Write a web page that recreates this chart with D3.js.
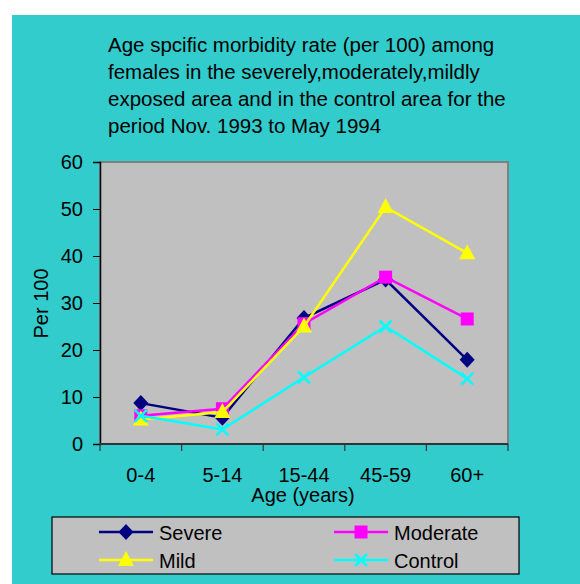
<!DOCTYPE html>
<html>
<head>
<meta charset="utf-8">
<script src="https://cdn.jsdelivr.net/npm/d3@7"></script>
<style>
  body { margin: 0; background: #fff; }
  svg text { font-family: "Liberation Sans", Arial, sans-serif; fill: #000; }
</style>
</head>
<body>
<div id="chart"></div>
<script>
// data
var ageGroups = ["0-4", "5-14", "15-44", "45-59", "60+"];
var severe   = [8.7, 5.6, 26.8, 35.0, 17.9];
var moderate = [6.0, 7.5, 25.6, 35.5, 26.6];
var mild     = [5.2, 6.8, 25.0, 50.4, 40.6];
var control  = [6.0, 3.1, 14.2, 25.0, 13.9];
var yTicks = [0, 10, 20, 30, 40, 50, 60];
var titleLines = [
  "Age spcific morbidity rate (per 100) among",
  "females in the severely,moderately,mildly",
  "exposed area and in the control area for the",
  "period Nov. 1993 to May 1994"
];

var series = [
  {name: "Severe", values: severe, color: "#000080", shape: "diamond"},
  {name: "Moderate", values: moderate, color: "#FF00FF", shape: "square"},
  {name: "Mild", values: mild, color: "#FFFF00", shape: "triangle"},
  {name: "Control", values: control, color: "#00FFFF", shape: "cross"}
];

var W = 580, H = 584;
var plot = {left: 100, top: 162, right: 508, bottom: 444};
var fs = "20px";

var svg = d3.select("#chart").append("svg")
  .attr("width", W).attr("height", H);

// teal background
svg.append("rect").attr("x", 12).attr("y", 15)
  .attr("width", W - 12).attr("height", H - 15).attr("fill", "#33CCCC");

// title
svg.append("g").selectAll("text")
  .data(titleLines).enter().append("text")
  .attr("x", 108)
  .attr("y", function(d, i) { return 51.5 + i * 27.2; })
  .attr("font-size", "20.5px")
  .text(function(d) { return d; });

var x = d3.scaleBand().domain(ageGroups).range([plot.left, plot.right]);
var y = d3.scaleLinear().domain([0, 60]).range([plot.bottom, plot.top]);

// plot area
svg.append("rect")
  .attr("x", plot.left).attr("y", plot.top)
  .attr("width", plot.right - plot.left).attr("height", plot.bottom - plot.top)
  .attr("fill", "#C0C0C0").attr("stroke", "#808080").attr("stroke-width", 2);

// y axis
var yAxis = svg.append("g")
  .attr("transform", "translate(" + plot.left + ",0)")
  .call(d3.axisLeft(y).tickValues(yTicks).tickSize(7).tickPadding(10));
yAxis.select(".domain").attr("stroke", "#000").attr("stroke-width", 1.5);
yAxis.selectAll("line").attr("stroke", "#000");
yAxis.selectAll("text").attr("font-size", fs)
  .attr("font-family", "Liberation Sans, Arial, sans-serif").attr("fill", "#000");

// x axis: ticks between categories
var xAxis = svg.append("g")
  .attr("transform", "translate(0," + plot.bottom + ")");
xAxis.append("line")
  .attr("x1", plot.left).attr("x2", plot.right)
  .attr("stroke", "#333").attr("stroke-width", 2);
var bounds = ageGroups.map(function(d) { return x(d); }).concat([x(ageGroups[ageGroups.length - 1]) + x.bandwidth()]);
xAxis.selectAll(".tk").data(bounds).enter().append("line")
  .attr("x1", function(d) { return d; }).attr("x2", function(d) { return d; })
  .attr("y1", 0).attr("y2", 7)
  .attr("stroke", "#333").attr("stroke-width", 1.2);
xAxis.selectAll(".lbl").data(ageGroups).enter().append("text")
  .attr("x", function(d) { return x(d) + x.bandwidth() / 2; })
  .attr("y", 38)
  .attr("text-anchor", "middle").attr("font-size", fs)
  .text(function(d) { return d; });

// axis titles
svg.append("text")
  .attr("x", 303).attr("y", 502)
  .attr("text-anchor", "middle").attr("font-size", fs)
  .text("Age (years)");
svg.append("text")
  .attr("transform", "translate(48,303.5) rotate(-90)")
  .attr("text-anchor", "middle").attr("font-size", fs)
  .text("Per 100");

function marker(g, shape, color, cx, cy) {
  if (shape === "diamond") {
    g.append("path").attr("d", "M" + cx + "," + (cy - 8) + "L" + (cx + 7.5) + "," + cy + "L" + cx + "," + (cy + 8) + "L" + (cx - 7.5) + "," + cy + "Z")
      .attr("fill", color);
  } else if (shape === "square") {
    g.append("rect").attr("x", cx - 6.5).attr("y", cy - 6.5)
      .attr("width", 13).attr("height", 13).attr("fill", color);
  } else if (shape === "triangle") {
    g.append("path").attr("d", "M" + cx + "," + (cy - 9) + "L" + (cx + 8) + "," + (cy + 6) + "L" + (cx - 8) + "," + (cy + 6) + "Z")
      .attr("fill", color);
  } else {
    g.append("path").attr("d", "M" + (cx - 6) + "," + (cy - 6) + "L" + (cx + 6) + "," + (cy + 6) + "M" + (cx + 6) + "," + (cy - 6) + "L" + (cx - 6) + "," + (cy + 6))
      .attr("stroke", color).attr("stroke-width", 2.5).attr("fill", "none");
  }
}

var line = d3.line()
  .x(function(d, i) { return x(ageGroups[i]) + x.bandwidth() / 2; })
  .y(function(d) { return y(d); });

series.forEach(function(s) {
  var g = svg.append("g");
  g.append("path").datum(s.values)
    .attr("d", line)
    .attr("fill", "none").attr("stroke", s.color).attr("stroke-width", 2.5);
  s.values.forEach(function(v, i) {
    marker(g, s.shape, s.color, x(ageGroups[i]) + x.bandwidth() / 2, y(v));
  });
});

// legend
var legend = svg.append("g");
legend.append("rect")
  .attr("x", 52).attr("y", 517).attr("width", 467).attr("height", 57)
  .attr("fill", "#C0C0C0").attr("stroke", "#000").attr("stroke-width", 1.2);
series.forEach(function(s, i) {
  var lx = i % 2 === 0 ? 99 : 334;
  var ly = i < 2 ? 532 : 560;
  legend.append("line")
    .attr("x1", lx).attr("x2", lx + 54).attr("y1", ly).attr("y2", ly)
    .attr("stroke", s.color).attr("stroke-width", 2.5);
  marker(legend, s.shape, s.color, lx + 27, ly);
  legend.append("text")
    .attr("x", lx + 60).attr("y", ly + 7.5)
    .attr("font-size", fs)
    .text(s.name);
});
</script>
</body>
</html>
